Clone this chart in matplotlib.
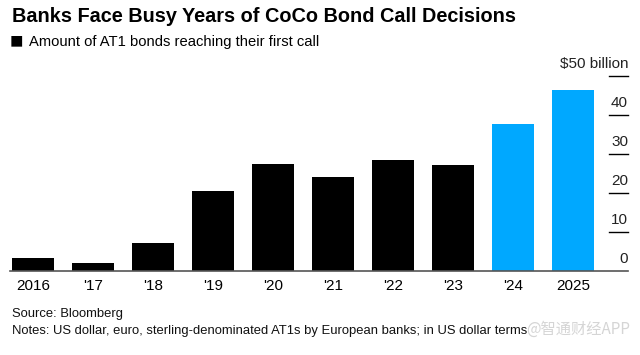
import matplotlib.pyplot as plt
import matplotlib.transforms as mtransforms

# data ($ billion)
years = ["2016", "'17", "'18", "'19", "'20", "'21", "'22", "'23", "'24", "2025"]
amounts = [3.3, 2.0, 7.2, 20.6, 27.4, 24.0, 28.4, 27.1, 37.7, 46.4]
colors = ["#000000"] * 8 + ["#00a8ff"] * 2
yticks = [0, 10, 20, 30, 40, 50]
ytick_labels = ["0", "10", "20", "30", "40", "$50 billion"]

plt.rcParams['font.family'] = ['Liberation Sans', 'DejaVu Sans']

fig = plt.figure(figsize=(6.4, 3.55), dpi=100)
ax = fig.add_axes([10 / 640, 84 / 355, 618 / 640, 214.5 / 355])

x = list(range(len(years)))
ax.bar(x, amounts, width=0.7, color=colors, zorder=1)
ax.set_xlim(-0.383, 9.917)
ax.set_ylim(0, 55)

# right-hand value scale: short tick lines with labels sitting above them
ytrans = ax.get_yaxis_transform()
lab_trans = mtransforms.offset_copy(ytrans, fig=fig, x=0, y=5, units='dots')
for v in yticks[1:]:
    ax.plot([0.969, 1.0], [v, v], color='black', lw=1.0, transform=ytrans,
            clip_on=False)
for v, lab in zip(yticks, ytick_labels):
    ax.text(1.0, v, lab, transform=lab_trans, ha='right', va='bottom',
            fontsize=11, color='#222222')

for s in ['top', 'right', 'left']:
    ax.spines[s].set_visible(False)
ax.spines['bottom'].set_color('#555555')
ax.spines['bottom'].set_linewidth(1.2)
ax.spines['bottom'].set_zorder(3)
ax.set_yticks([])
ax.set_xticks(x)
ax.set_xticklabels(years, fontsize=11)
ax.tick_params(axis='x', length=0, pad=6)

fig.text(12 / 640, 1 - 16 / 355, "Banks Face Busy Years of CoCo Bond Call Decisions",
         fontsize=14.3, fontweight='bold', va='center', ha='left')
fig.text(10 / 640, 1 - 42 / 355, "\u25a0", fontsize=16, va='center', ha='left')
fig.text(29 / 640, 1 - 42 / 355, "Amount of AT1 bonds reaching their first call",
         fontsize=10.6, va='center', ha='left')
fig.text(12 / 640, 1 - 314 / 355, "Source: Bloomberg",
         fontsize=9.4, va='center', ha='left', color='#111111')
fig.text(12 / 640, 1 - 331 / 355,
         "Notes: US dollar, euro, sterling-denominated AT1s by European banks; in US dollar terms",
         fontsize=9.4, va='center', ha='left', color='#111111')
fig.text(630 / 640, 1 - 329 / 355, "@智通财经APP", fontsize=11, va='center', ha='right',
         color='#d5d5d5', family=['Noto Sans CJK SC', 'DejaVu Sans'])

fig.savefig("out.png", dpi=100)
